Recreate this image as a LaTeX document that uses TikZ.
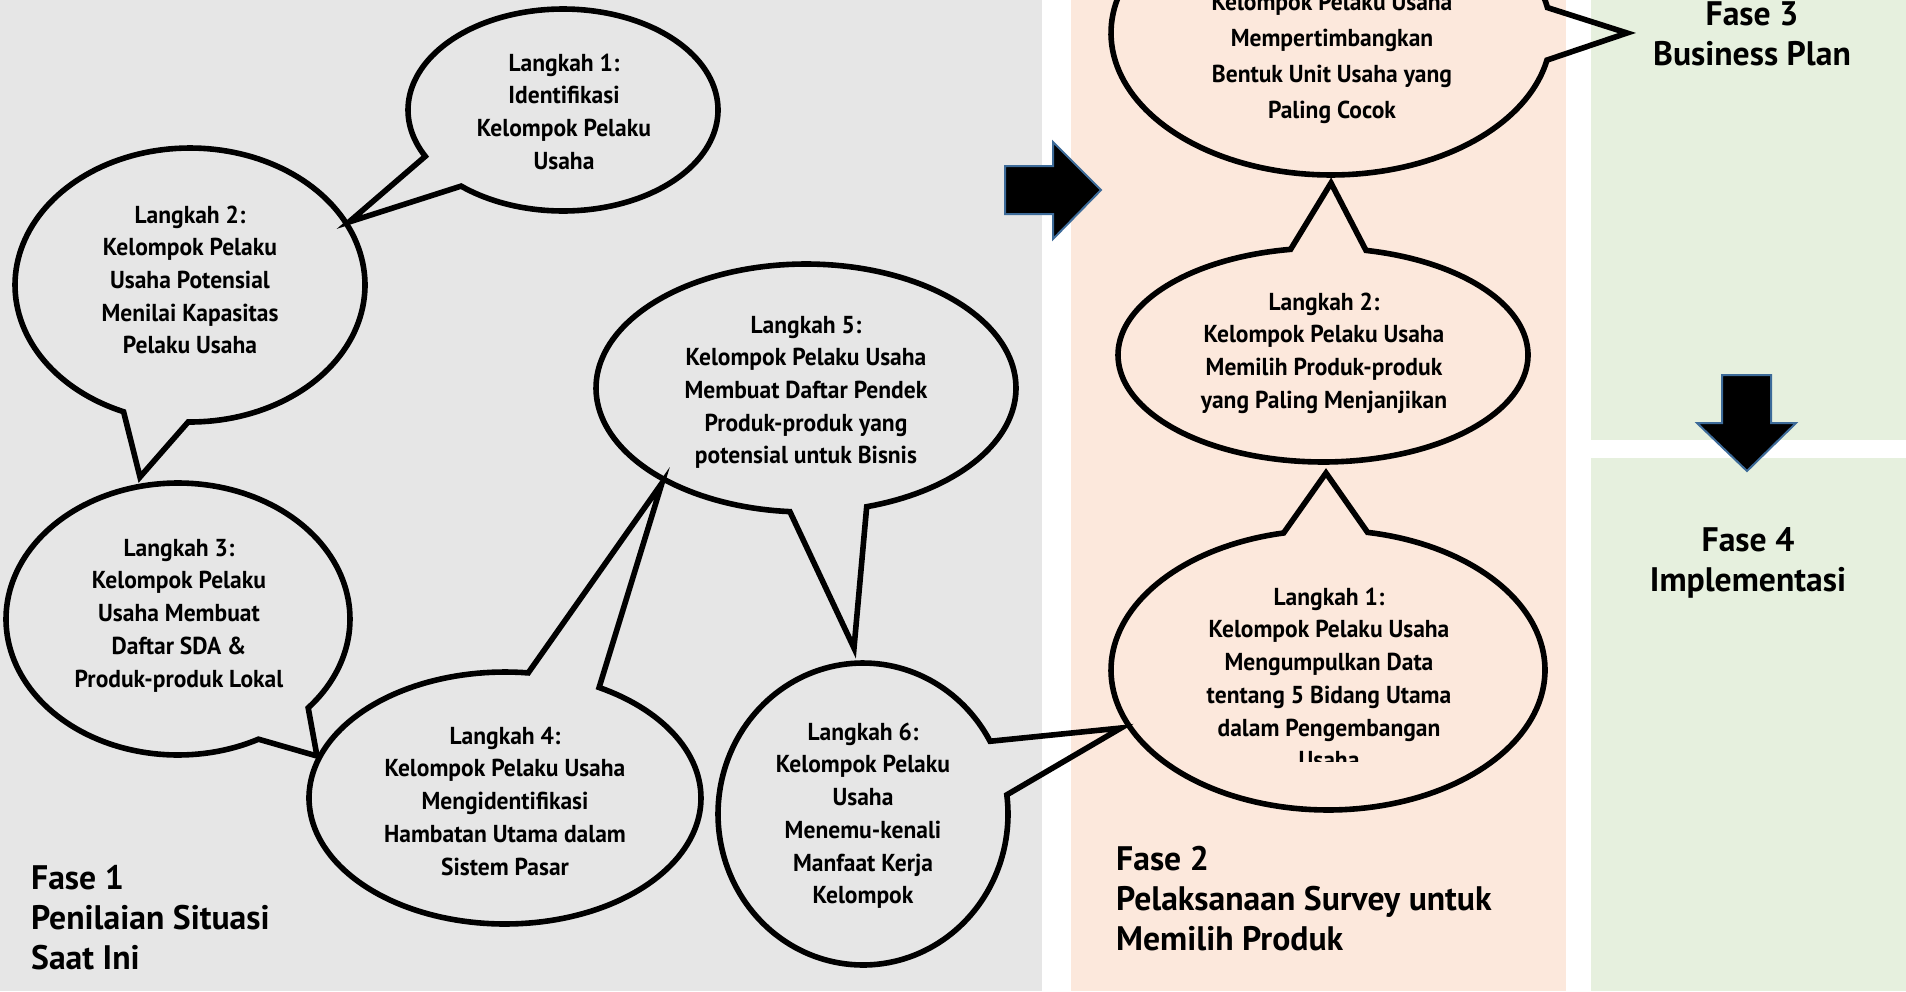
\documentclass[tikz,border=0pt]{standalone}
\usepackage{fontspec}
\setmainfont{PT Sans}[FakeStretch=0.96]
\newfontfamily\fasefam{PT Sans}[FakeStretch=0.99]
\definecolor{panelgrey}{HTML}{E6E6E6}
\definecolor{panelpeach}{HTML}{FCE8DC}
\definecolor{panelgreen}{HTML}{E6F0DE}
\definecolor{arrowedge}{HTML}{3D6B99}
\newcommand\bubfont{\bfseries\fontsize{24.5}{32.7}\selectfont}
\newcommand\bubfontwide{\bfseries\fontsize{24.5}{36}\selectfont}
\newcommand\fasefont{\fasefam\bfseries\fontsize{34}{40}\selectfont}
% cx cy rx ry tstart tend tipx tipy
\newcommand\speechbubble[8]{%
  \draw[bubble] plot[domain=#5:#6, samples=160] ({#1+#3*cos(\x)},{#2+#4*sin(\x)}) -- (#7,#8) -- cycle;}
\begin{document}
\begin{tikzpicture}[x=1pt,y=-1pt,
  bubble/.style={line width=5.6pt, line join=miter, draw=black},
  bubtext/.style={anchor=north, align=center, inner sep=0pt, font=\bubfont},
  fasetext/.style={inner sep=0pt, font=\fasefont},
  bigarrow/.style={fill=black, draw=arrowedge, line width=2pt, line join=miter}]
\useasboundingbox (0,0) rectangle (1906,991);
\fill[white] (0,0) rectangle (1906,991);
% panels
\fill[panelgrey] (0,0) rectangle (1042,991);
\fill[panelpeach] (1071,0) rectangle (1566,991);
\fill[panelgreen] (1591,0) rectangle (1906,440);
\fill[panelgreen] (1591,458) rectangle (1906,991);
% big arrows
\draw[bigarrow] (1005,166) -- (1053,166) -- (1053,142) -- (1101,190) -- (1053,239) -- (1053,214) -- (1005,214) -- cycle;
\draw[bigarrow] (1722,375) -- (1771,375) -- (1771,423) -- (1796,423) -- (1747,471) -- (1697,423) -- (1722,423) -- cycle;
% phase 1 bubbles
\speechbubble{563}{110}{155}{101}{152.7}{491.1}{349}{222}
\speechbubble{190}{285}{175}{137}{112.3}{450.6}{140}{477}
\speechbubble{178}{619}{172}{136}{62.1}{400.8}{317}{756}
\speechbubble{505}{798}{196}{126}{298.7}{636.8}{662}{483}
\speechbubble{806}{388}{210}{124}{94.4}{433.2}{854}{648}
\speechbubble{863}{814}{145}{151}{352.7}{691.2}{1121}{728}
% phase 2 bubbles
\speechbubble{1331}{33}{220}{142}{11.0}{349.7}{1627}{33}
\speechbubble{1323}{355}{205}{107}{282.1}{620.9}{1331}{183}
\speechbubble{1328}{670}{217}{140}{280.5}{618.2}{1326}{473}
% bubble texts
\node[bubtext] (s1) at (564,48.1) {\strut Langkah 1:\\Identifikasi\\Kelompok Pelaku\\Usaha};
\node[bubtext] (s2) at (190,200.1) {\strut Langkah 2:\\Kelompok Pelaku\\Usaha Potensial\\Menilai Kapasitas\\Pelaku Usaha};
\node[bubtext] (s3) at (179,533.1) {\strut Langkah 3:\\Kelompok Pelaku\\Usaha Membuat\\Daftar SDA \&\\Produk-produk Lokal};
\node[bubtext] (s4) at (505,721.1) {\strut Langkah 4:\\Kelompok Pelaku Usaha\\Mengidentifikasi\\Hambatan Utama dalam\\Sistem Pasar};
\node[bubtext] (s5) at (806,310.1) {\strut Langkah 5:\\Kelompok Pelaku Usaha\\Membuat Daftar Pendek\\Produk-produk yang\\potensial untuk Bisnis};
\node[bubtext] (s6) at (863,717.1) {\strut Langkah 6:\\Kelompok Pelaku\\Usaha\\Menemu-kenali\\Manfaat Kerja\\Kelompok};
\node[bubtext, font=\bubfontwide] (q3) at (1332,-14.7) {\strut Kelompok Pelaku Usaha\\Mempertimbangkan\\Bentuk Unit Usaha yang\\Paling Cocok};
\node[bubtext] (q2) at (1324,287.1) {\strut Langkah 2:\\Kelompok Pelaku Usaha\\Memilih Produk-produk\\yang Paling Menjanjikan};
\begin{scope}
\clip (1100,570) rectangle (1560,761);
\node[bubtext] (q1) at (1329,582.1) {\strut Langkah 1:\\Kelompok Pelaku Usaha\\Mengumpulkan Data\\tentang 5 Bidang Utama\\dalam Pengembangan\\Usaha};
\end{scope}
% phase labels
\node[fasetext, anchor=north west, align=left] (f1) at (31,861) {\strut Fase 1\\Penilaian Situasi\\Saat Ini};
\node[fasetext, anchor=north west, align=left] (f2) at (1116,842) {\strut Fase 2\\Pelaksanaan Survey untuk\\Memilih Produk};
\node[fasetext, anchor=north, align=center] (f3) at (1752,-3) {\strut Fase 3\\Business Plan};
\node[fasetext, anchor=north, align=center] (f4) at (1748,523) {\strut Fase 4\\Implementasi};
\end{tikzpicture}
\end{document}
